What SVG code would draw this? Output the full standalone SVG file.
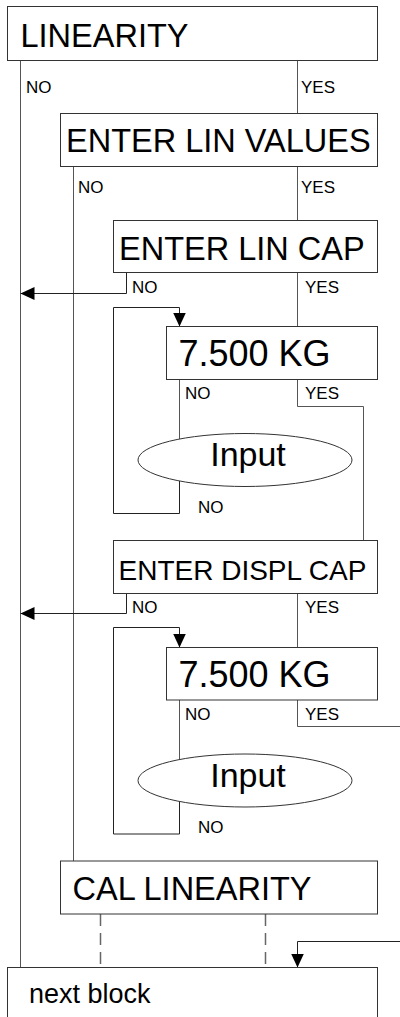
<svg xmlns="http://www.w3.org/2000/svg" width="400" height="1017" viewBox="0 0 400 1017">
<style>
.box{fill:#fff;stroke:#333;stroke-width:1}
.big{font-family:"Liberation Sans",Arial,sans-serif;font-size:32.5px;fill:#000}
.kg{font-family:"Liberation Sans",Arial,sans-serif;font-size:36px;fill:#000}
.mid{font-family:"Liberation Sans",Arial,sans-serif;font-size:28px;fill:#000}
.lbl{font-family:"Liberation Sans",Arial,sans-serif;font-size:17px;fill:#000}
.ln{fill:none;stroke:#555;stroke-width:1}
.ar{fill:none;stroke:#222;stroke-width:1;marker-end:url(#ah)}
.dash{fill:none;stroke:#666;stroke-width:1.5;stroke-dasharray:12 7}
</style>
<defs>
<marker id="ah" viewBox="0 0 14 13" refX="14" refY="6.5" markerWidth="14" markerHeight="13" markerUnits="userSpaceOnUse" orient="auto">
<path d="M0,0 L14,6.5 L0,13 z" fill="#000"/>
</marker>
</defs>
<g id="connectors">
<path class="ln" d="M20.5,60.5 V967.5"/>
<path class="ln" d="M297.5,60.5 V113.5"/>
<path class="ln" d="M73.5,166.5 V861"/>
<path class="ln" d="M297.5,166.5 V220.5"/>
<path class="ar" d="M126.5,272.5 V293.5 H20.5"/>
<path class="ln" d="M297.5,272.5 V326.5"/>
<path class="ar" d="M179.5,481 V513.5 H113.5 V307.5 H179.5 V326.5"/>
<path class="ln" d="M179.5,379.5 V439"/>
<path class="ln" d="M297.5,379.5 V406.5 H363.5 V540.5"/>
<path class="ar" d="M126.5,593.5 V613.5 H20.5"/>
<path class="ln" d="M297.5,593.5 V647.5"/>
<path class="ar" d="M179.5,801.5 V834 H113.5 V627.5 H179.5 V647.5"/>
<path class="ln" d="M179.5,700 V759.5"/>
<path class="ln" d="M297.5,700 V726.5 H400"/>
<path class="ar" d="M400,941.5 H297.5 V967.5"/>
<path class="dash" d="M100.5,914 V967.5"/>
<path class="dash" d="M265.5,914 V967.5"/>
<text class="lbl" x="26" y="93">NO</text>
<text class="lbl" x="301" y="93">YES</text>
<text class="lbl" x="78" y="193">NO</text>
<text class="lbl" x="301" y="193">YES</text>
<text class="lbl" x="132" y="293">NO</text>
<text class="lbl" x="305" y="293">YES</text>
<text class="lbl" x="185" y="399">NO</text>
<text class="lbl" x="305" y="399">YES</text>
<text class="lbl" x="198" y="513">NO</text>
<text class="lbl" x="132" y="613">NO</text>
<text class="lbl" x="305" y="613">YES</text>
<text class="lbl" x="185" y="720">NO</text>
<text class="lbl" x="305" y="720">YES</text>
<text class="lbl" x="198" y="833">NO</text>
</g>
<g id="linearity">
<rect class="box" x="7.5" y="6.5" width="370" height="54"/>
<text class="big" x="20.5" y="47">LINEARITY</text>
</g>
<g id="enter-lin-values">
<rect class="box" x="60.5" y="113.5" width="317" height="53"/>
<text class="big" x="66" y="152">ENTER LIN VALUES</text>
</g>
<g id="enter-lin-cap">
<rect class="box" x="113.5" y="220.5" width="264" height="52"/>
<text class="big" x="119" y="260">ENTER LIN CAP</text>
</g>
<g id="kg1">
<rect class="box" x="166.5" y="326.5" width="211" height="53"/>
<text class="kg" x="178.5" y="366">7.500 KG</text>
</g>
<g id="input1">
<ellipse class="box" cx="245" cy="460" rx="107" ry="26.5"/>
<text class="big" x="248" y="466" text-anchor="middle" style="font-size:34px">Input</text>
</g>
<g id="enter-displ-cap">
<rect class="box" x="113.5" y="540.5" width="264" height="53"/>
<text class="mid" x="118.5" y="580">ENTER DISPL CAP</text>
</g>
<g id="kg2">
<rect class="box" x="166.5" y="647.5" width="211" height="52.5"/>
<text class="kg" x="178.5" y="687">7.500 KG</text>
</g>
<g id="input2">
<ellipse class="box" cx="245" cy="780.5" rx="107" ry="26.5"/>
<text class="big" x="248" y="786.5" text-anchor="middle" style="font-size:34px">Input</text>
</g>
<g id="cal-linearity">
<rect class="box" x="60.5" y="861" width="317" height="53"/>
<text class="big" x="72.5" y="900">CAL LINEARITY</text>
</g>
<g id="next-block">
<rect class="box" x="7.5" y="967.5" width="370" height="60"/>
<text class="mid" x="29" y="1003" style="font-size:27px">next block</text>
</g>
</svg>
